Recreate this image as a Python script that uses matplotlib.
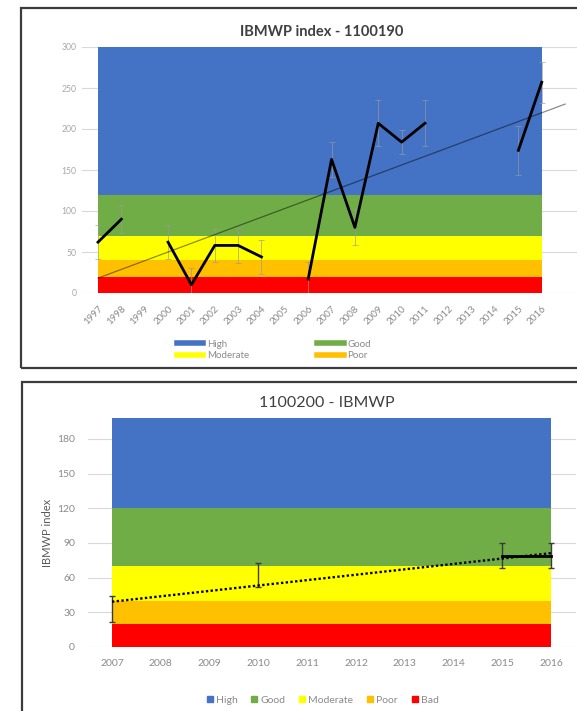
import numpy as np
import matplotlib
matplotlib.use("Agg")
import matplotlib.pyplot as plt
from matplotlib.lines import Line2D
from matplotlib.patches import Rectangle

plt.rcParams['font.family'] = ['Lato', 'DejaVu Sans']

nan = np.nan

# Ecological status classes (IBMWP index thresholds)
class_names = ['High', 'Good', 'Moderate', 'Poor', 'Bad']
class_colors = ['#4472C4', '#70AD47', '#FFFF00', '#FFC000', '#FF0000']
class_lower = [120, 70, 40, 20, 0]

# Station 1100190
years_a = list(range(1997, 2017))
ibmwp_a = [62, 90, nan, 62, 10, 58, 58, 44, nan, 17,
           163, 80, 207, 184, 207, nan, nan, nan, 174, 257]
err_a = [21, 17, 0, 21, 20, 20, 21, 21, 0, 21,
         21, 22, 28, 15, 28, 0, 0, 0, 30, 25]
high_top_a = 300
yticks_a = [0, 50, 100, 150, 200, 250, 300]

# Station 1100200
years_b = list(range(2007, 2017))
ibmwp_b = [39, nan, nan, 53, nan, nan, nan, nan, 79, 79]
err_b_minus = [17, 0, 0, 1, 0, 0, 0, 0, 11, 11]
err_b_plus = [5, 0, 0, 20, 0, 0, 0, 0, 11, 11]
high_top_b = 198
yticks_b = [0, 30, 60, 90, 120, 150, 180]

W, H = 577, 711
fig = plt.figure(figsize=(W / 100, H / 100), dpi=100)
fig.patch.set_facecolor('white')

GRID = '#d9d9d9'
TICK = '#8a8a8a'


def draw_bands(ax, n, top):
    x = np.arange(n)
    uppers = [top] + class_lower[:-1]
    for lo, up, col in zip(class_lower, uppers, class_colors):
        ax.fill_between(x, np.full(n, lo), np.full(n, up), color=col,
                        linewidth=0, zorder=1)


def style_axes(ax, yticks, ylab_size):
    for s in ax.spines.values():
        s.set_visible(False)
    ax.set_yticks(yticks)
    ax.yaxis.grid(True, color=GRID, linewidth=0.8)
    ax.set_axisbelow(True)
    ax.tick_params(length=0, colors=TICK, labelsize=ylab_size)
    ax.set_facecolor('none')


def trend(x, y, x_end):
    ok = ~np.isnan(y)
    k, b = np.polyfit(x[ok], y[ok], 1)
    xs = np.array([x[0], x_end])
    return xs, k * xs + b


# ---------- upper chart ----------
ax1 = fig.add_axes([82 / W, (H - 293) / H, 495 / W, 246 / H])
na = len(years_a)
xa = np.arange(na, dtype=float)
ya = np.array(ibmwp_a, dtype=float)
draw_bands(ax1, na, high_top_a)
ea = np.array(err_a, dtype=float)
ok = ~np.isnan(ya)
ax1.errorbar(xa[ok], ya[ok], yerr=ea[ok], fmt='none', ecolor='#9a9a9a',
             elinewidth=0.6, capsize=2, capthick=0.6, alpha=0.75, zorder=3)
tx, ty = trend(xa, ya, na)
ax1.plot(tx, ty, color='black', alpha=0.45, linewidth=0.9, zorder=3)
ax1.plot(xa, ya, color='black', linewidth=2.0, zorder=4)
ax1.set_xlim(-0.685, 20.51)
ax1.set_ylim(0, high_top_a)
style_axes(ax1, yticks_a, 6.2)
ax1.tick_params(axis='y', colors='#a8a8a8', pad=4)
ax1.set_xticks(xa)
ax1.set_xticklabels([str(y) for y in years_a], rotation=45, ha='right',
                    va='top', rotation_mode='anchor', fontsize=7, color=TICK)
ax1.tick_params(axis='x', pad=8)

fig.text(322 / W, 1 - 32 / H, 'IBMWP index - 1100190', ha='center',
         va='center', fontsize=10.5, fontweight='bold', color='#404040')

handles_a = [Line2D([], [], color=class_colors[i], linewidth=4)
             for i in (0, 2, 1, 3)]
labels_a = [class_names[i] for i in (0, 2, 1, 3)]
fig.legend(handles_a, labels_a, ncol=2, loc='center',
           bbox_to_anchor=(274 / W, 1 - 350 / H), frameon=False,
           fontsize=7, labelcolor=TICK, handlelength=2.7, handletextpad=0.4,
           columnspacing=7.0, labelspacing=0.3)

fig.add_artist(Rectangle((21 / W, (H - 368) / H), 600 / W, 360 / H,
                         transform=fig.transFigure, fill=False,
                         edgecolor='#3c3c3c', linewidth=1.6, clip_on=False))

# ---------- lower chart ----------
ax2 = fig.add_axes([87.6 / W, (H - 647) / H, 488 / W, 229 / H])
nb = len(years_b)
xb = np.arange(nb, dtype=float)
yb = np.array(ibmwp_b, dtype=float)
draw_bands(ax2, nb, high_top_b)
okb = ~np.isnan(yb)
eb = np.vstack([np.array(err_b_minus, float)[okb],
                np.array(err_b_plus, float)[okb]])
ax2.errorbar(xb[okb], yb[okb], yerr=eb, fmt='none', ecolor='#3a3a3a',
             elinewidth=1.0, capsize=2, capthick=1.0, zorder=3)
tx, ty = trend(xb, yb, nb - 1)
ax2.plot(tx, ty, color='black', linestyle=(0, (1, 1)), linewidth=1.7,
         zorder=3)
ax2.plot(xb, yb, color='black', linewidth=2.0, zorder=4)
ax2.set_xlim(-0.5, 9.5)
ax2.set_ylim(0, high_top_b)
style_axes(ax2, yticks_b, 7.5)
ax2.tick_params(axis='y', pad=9)
ax2.set_xticks(xb)
ax2.set_xticklabels([str(y) for y in years_b], fontsize=7.5, color=TICK)
ax2.tick_params(axis='x', pad=9)
ax2.set_ylabel('IBMWP index', fontsize=8, color='#595959', labelpad=3)

fig.text(327 / W, 1 - 403 / H, '1100200 - IBMWP', ha='center',
         va='center', fontsize=11.5, color='#404040')

handles_b = [Line2D([], [], color=c, marker='s', linestyle='none',
                    markersize=4) for c in class_colors]
fig.legend(handles_b, class_names, ncol=5, loc='center',
           bbox_to_anchor=(322 / W, 1 - 700 / H), frameon=False,
           fontsize=7.5, labelcolor=TICK, handlelength=0.8,
           handletextpad=0.2, columnspacing=1.2)

fig.add_artist(Rectangle((22 / W, -20 / H), 600 / W, (H - 382 + 20) / H,
                         transform=fig.transFigure, fill=False,
                         edgecolor='#3c3c3c', linewidth=1.6, clip_on=False))

fig.savefig('out.png', dpi=100, facecolor='white')
